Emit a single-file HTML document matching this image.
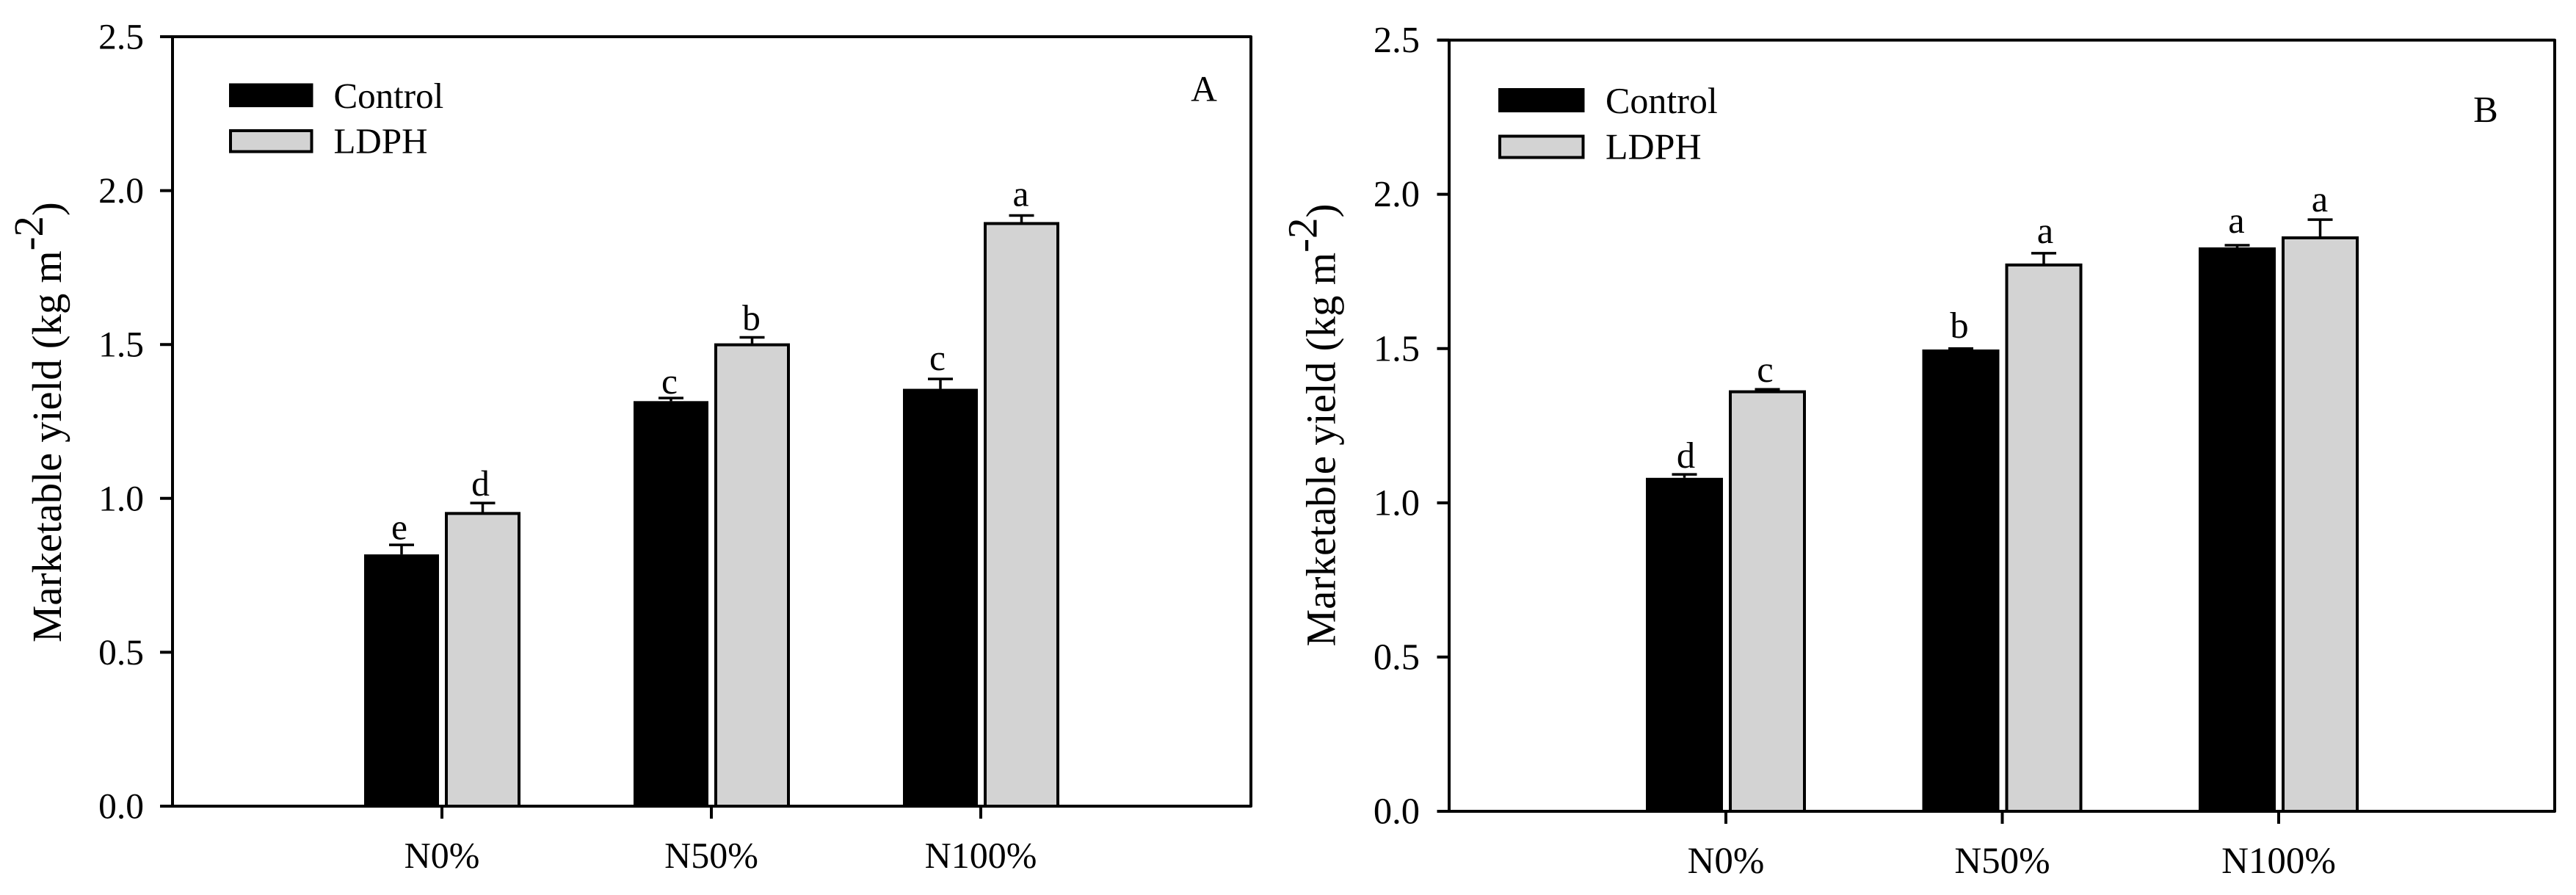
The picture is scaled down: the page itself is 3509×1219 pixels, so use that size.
<!DOCTYPE html>
<html lang="en">
<head>
<meta charset="utf-8">
<title>Marketable yield by nitrogen level</title>
<style>
  html, body { margin: 0; padding: 0; background: #fff; }
  svg { display: block; }
  text { font-family: "Liberation Serif", serif; fill: #000; text-rendering: geometricPrecision; }
</style>
</head>
<body>
<svg id="figure" xmlns="http://www.w3.org/2000/svg" width="3509" height="1219" viewBox="0 0 3509 1219">
  <rect x="0" y="0" width="3509" height="1219" fill="#ffffff"/>
  <g id="panel-a"></g>
  <g id="panel-b"></g>
</svg>
<script>
// ---- chart data ----
const categories = ["N0%", "N50%", "N100%"];
const seriesNames = ["Control", "LDPH"];
const yTickValues = [0, 0.5, 1, 1.5, 2, 2.5];
const yTickLabels = ["0.0", "0.5", "1.0", "1.5", "2.0", "2.5"];

const controlA = [0.818, 1.316, 1.356];
const ldphA = [0.951, 1.499, 1.893];
const controlErrA = [0.031, 0.01, 0.032];
const ldphErrA = [0.034, 0.024, 0.026];
const controlLettersA = ["e", "c", "c"];
const ldphLettersA = ["d", "b", "a"];

const controlB = [1.081, 1.497, 1.828];
const ldphB = [1.36, 1.771, 1.859];
const controlErrB = [0.011, 0.003, 0.007];
const ldphErrB = [0.008, 0.038, 0.059];
const controlLettersB = ["d", "b", "a"];
const ldphLettersB = ["c", "a", "a"];

const yMax = 2.5;
const NS = "http://www.w3.org/2000/svg";

function mk(parent, tag, attrs, txt) {
  const el = document.createElementNS(NS, tag);
  for (const k in attrs) el.setAttribute(k, attrs[k]);
  if (txt !== undefined) el.textContent = txt;
  parent.appendChild(el);
  return el;
}

function drawPanel(root, cfg, control, ldph, controlErr, ldphErr, controlLetters, ldphLetters) {
  const yScale = v => cfg.y0 - (v / yMax) * (cfg.y0 - cfg.yTop);
  const xScale = i => cfg.xFirst + i * cfg.xStep;
  const fs = cfg.fontSize;

  // bars, error bars and significance letters
  categories.forEach((cat, i) => {
    const tx = xScale(i);

    const bLeft = tx + cfg.blackL, bRight = tx + cfg.blackR;
    const bTop = yScale(control[i]);
    const bar1 = mk(root, "rect", { x: bLeft, y: bTop, width: bRight - bLeft, height: cfg.y0 - bTop, fill: "#000" });
    
    

    const gLeft = tx + cfg.grayL, gRight = tx + cfg.grayR;
    const gTop = yScale(ldph[i]);
    const bar2 = mk(root, "rect", { x: gLeft, y: gTop, width: gRight - gLeft, height: cfg.y0 - gTop, fill: "#d3d3d3", stroke: "#000", "stroke-width": 4 });
    
    

    const bMid = (bLeft + bRight) / 2;
    const bErrTop = yScale(control[i] + controlErr[i]);
    const err1 = mk(root, "path", { d: "M" + bMid + " " + bTop + "V" + bErrTop + "M" + (bMid - 17) + " " + bErrTop + "H" + (bMid + 17), stroke: "#000", "stroke-width": 3.5, fill: "none" });
    
    

    const gMid = (gLeft + gRight) / 2;
    const gErrTop = yScale(ldph[i] + ldphErr[i]);
    const err2 = mk(root, "path", { d: "M" + gMid + " " + gTop + "V" + gErrTop + "M" + (gMid - 17) + " " + gErrTop + "H" + (gMid + 17), stroke: "#000", "stroke-width": 3.5, fill: "none" });
    
    

    const l1 = mk(root, "text", { x: bMid + cfg.controlLetterDx[i], y: bErrTop - cfg.controlLetterGap[i], "font-size": fs, "text-anchor": "middle" }, controlLetters[i]);
    
    

    const l2 = mk(root, "text", { x: gMid + cfg.ldphLetterDx[i], y: gErrTop - cfg.ldphLetterGap[i], "font-size": fs, "text-anchor": "middle" }, ldphLetters[i]);
    
    

    const tick = mk(root, "line", { x1: tx, x2: tx, y1: cfg.y0, y2: cfg.y0 + 17, stroke: "#000", "stroke-width": 4 });
    
    

    const catLabel = mk(root, "text", { x: tx, y: cfg.y0 + 84, "font-size": fs + 0.5, "text-anchor": "middle" }, cat);
    
    
  });

  // axis frame
  const frame = mk(root, "path", {
    d: "M" + cfg.tickLeft + " " + cfg.yTop + "H" + cfg.xRight + "V" + cfg.y0 + "H" + cfg.tickLeft + "M" + cfg.xAxis + " " + cfg.yTop + "V" + cfg.y0,
    stroke: "#000", "stroke-width": 4, fill: "none", "stroke-linejoin": "round"
  });
  
  

  // y ticks
  yTickValues.forEach((v, i) => {
    const y = yScale(v);
    const t = mk(root, "line", { x1: cfg.tickLeft, x2: cfg.xAxis, y1: y, y2: y, stroke: "#000", "stroke-width": 4 });
    
    

    const lab = mk(root, "text", { x: cfg.yLabelRight, y: y + 16.5, "font-size": fs, "text-anchor": "end" }, yTickLabels[i]);
    
    
  });

  // y axis title
  const title = mk(root, "text", { transform: "translate(" + cfg.titleX + " " + cfg.titleY + ") rotate(-90)", x: 0, y: 0, "font-size": cfg.titleSize });
  
  
  mk(title, "tspan", {}, "Marketable yield (kg m");
  mk(title, "tspan", { dy: -25 }, "-2");
  mk(title, "tspan", { dy: 25 }, ")");

  // legend
  const b1 = mk(root, "rect", { x: cfg.legendX, y: cfg.legendY1, width: cfg.legendW, height: cfg.legendH, fill: "#000" });
  
  

  const b2 = mk(root, "rect", { x: cfg.legendX + 2, y: cfg.legendY2 + 2, width: cfg.legendW - 4, height: cfg.legendH - 4, fill: "#d3d3d3", stroke: "#000", "stroke-width": 4 });
  
  

  const t1 = mk(root, "text", { x: cfg.legendTextX, y: cfg.legendY1 + cfg.legendH + 1, "font-size": cfg.legendSize }, seriesNames[0]);
  
  

  const t2 = mk(root, "text", { x: cfg.legendTextX, y: cfg.legendY2 + cfg.legendH, "font-size": cfg.legendSize }, seriesNames[1]);
  
  

  // panel letter
  const pl = mk(root, "text", { x: cfg.letterX, y: cfg.letterY, "font-size": fs, "text-anchor": "middle" }, cfg.letter);
  
  
}

drawPanel(document.getElementById("panel-a"), {
  y0: 1098, yTop: 50, xAxis: 235, xRight: 1704, tickLeft: 218,
  xFirst: 602, xStep: 367,
  blackL: -106, blackR: -4, grayL: 6, grayR: 105,
  fontSize: 49.5, legendSize: 49, yLabelRight: 196,
  controlLetterGap: [7.5, 6, 12], ldphLetterGap: [10, 10, 13],
  controlLetterDx: [-3, -2, -4], ldphLetterDx: [-3, -1, -1],
  titleX: 83, titleY: 875, titleSize: 56.7,
  legendX: 312, legendY1: 113.5, legendY2: 176, legendW: 114.5, legendH: 32.5, legendTextX: 454.5,
  letter: "A", letterX: 1640, letterY: 137.5
}, controlA, ldphA, controlErrA, ldphErrA, controlLettersA, ldphLettersA);

drawPanel(document.getElementById("panel-b"), {
  y0: 1105, yTop: 54.6, xAxis: 1974, xRight: 3480, tickLeft: 1957.5,
  xFirst: 2351, xStep: 376.5,
  blackL: -109, blackR: -4, grayL: 6, grayR: 107,
  fontSize: 50.5, legendSize: 50, yLabelRight: 1934,
  controlLetterGap: [9, 15, 17], ldphLetterGap: [10, 14, 11],
  controlLetterDx: [2, -2, -1], ldphLetterDx: [-3, 2, -0.5],
  titleX: 1818.5, titleY: 880.5, titleSize: 57,
  legendX: 2041, legendY1: 120, legendY2: 183.5, legendW: 117.5, legendH: 33, legendTextX: 2187,
  letter: "B", letterX: 3386, letterY: 166
}, controlB, ldphB, controlErrB, ldphErrB, controlLettersB, ldphLettersB);
</script>
</body>
</html>
